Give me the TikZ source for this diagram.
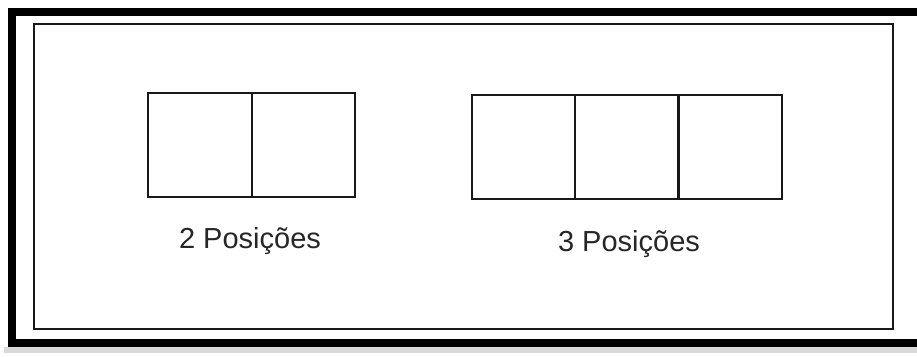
\documentclass[tikz,border=0pt]{standalone}
\usepackage{fontspec}
\setmainfont{Liberation Sans}
\begin{document}
\begin{tikzpicture}[x=1pt,y=-1pt,
  cell/.style={draw=black!90,line width=1.6pt,rectangle,inner sep=0pt,minimum width=103.5pt,minimum height=104pt},
  lbltext/.style={anchor=base,inner sep=0pt,text=black!85,font=\fontsize{29}{34}\selectfont},
  frameline/.style={draw=black,line width=8pt},
  innerline/.style={draw=black!90,line width=1.8pt}]
\useasboundingbox (0,0) rectangle (917,356);
\fill[gray!30] (4,347) rectangle (917,353);
\draw[frameline] (12,12) rectangle (922,343);
\draw[innerline] (34,24) rectangle (893,329);
% 2 positions
\node[cell] (a1) at (200,145) {};
\node[cell] (a2) at (303.5,145) {};
% 3 positions
\node[cell] (b1) at (523.5,147) {};
\node[cell] (b2) at (627,147) {};
\node[cell] (b3) at (730,147) {};
\node[lbltext] (la) at (250,248) {2 Posições};
\node[lbltext] (lb) at (629,251) {3 Posições};
\end{tikzpicture}
\end{document}
